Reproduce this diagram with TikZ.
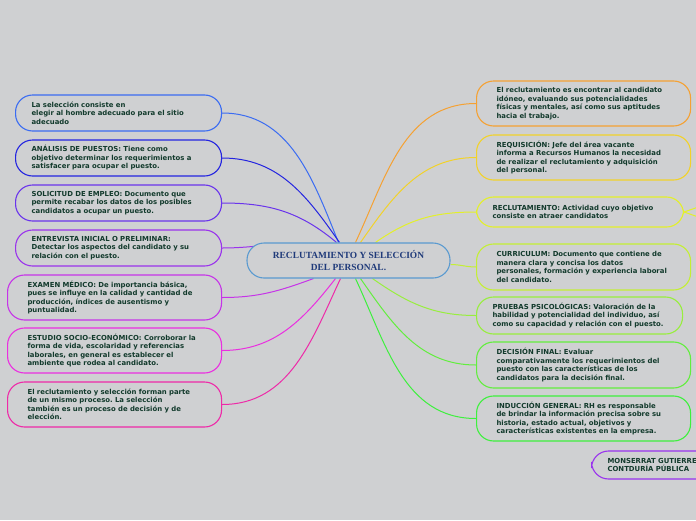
\documentclass[tikz,border=0pt]{standalone}
\usepackage{fontspec}
\newfontfamily\leaffont{DejaVu Sans}
\newfontfamily\rootfont{Liberation Serif}
\usetikzlibrary{backgrounds}
\frenchspacing
\definecolor{paper}{RGB}{207,208,210}
\definecolor{ink}{RGB}{18,58,44}
\definecolor{navy}{RGB}{31,58,122}
\definecolor{rootc}{RGB}{90,154,208}
\definecolor{cla}{RGB}{59,108,242}
\definecolor{clb}{RGB}{36,36,224}
\definecolor{clc}{RGB}{106,52,236}
\definecolor{cld}{RGB}{154,51,236}
\definecolor{cle}{RGB}{198,52,232}
\definecolor{clf}{RGB}{234,47,224}
\definecolor{clg}{RGB}{238,42,168}
\definecolor{cra}{RGB}{245,161,51}
\definecolor{crb}{RGB}{242,210,42}
\definecolor{crc}{RGB}{227,240,42}
\definecolor{crd}{RGB}{196,239,52}
\definecolor{cre}{RGB}{152,238,62}
\definecolor{crf}{RGB}{98,238,62}
\definecolor{crg}{RGB}{62,240,62}
\definecolor{crh}{RGB}{153,51,238}
\begin{document}
\begin{tikzpicture}[
                x=1pt, y=-1pt,
                every node/.style={font=\leaffont\bfseries\fontsize{6.9}{8.5}\selectfont, text=ink},
                leaf/.style={draw, line width=1.1pt, rounded corners=17pt, fill=paper, align=left, anchor=west,
                    text width=174pt, inner xsep=16pt},
                wide/.style={leaf, inner xsep=20pt},
                short/.style={leaf, minimum height=36pt},
                tall/.style={wide, minimum height=45pt},
                root/.style={draw=rootc, line width=1.1pt, rounded corners=17pt, fill=paper, align=center, text=navy,
                    font=\rootfont\bfseries\fontsize{9.4}{11.5}\selectfont, minimum width=203pt, minimum height=35pt},
                link/.style={line width=1pt}
            ]
                \useasboundingbox (0,0) rectangle (696,520);
                \clip (0,0) rectangle (696,520);
                \node [root] (C) at (348.5,260.5) {RECLUTAMIENTO Y SELECCIÓN\\DEL PERSONAL.};
                \node [short, draw=cla] (L1) at (15,113) {La selección consiste en\\elegir al hombre adecuado para el sitio\\adecuado};
                \node [short, draw=clb] (L2) at (15,158) {ANÁLISIS DE PUESTOS: Tiene como\\objetivo determinar los requerimientos a\\satisfacer para ocupar el puesto.};
                \node [short, draw=clc] (L3) at (15,203) {SOLICITUD DE EMPLEO: Documento que\\permite recabar los datos de los posibles\\candidatos a ocupar un puesto.};
                \node [short, draw=cld] (L4) at (15,248) {ENTREVISTA INICIAL O PRELIMINAR:\\Detectar los aspectos del candidato y su\\relación con el puesto.};
                \node [tall, draw=cle] (L5) at (7,297.5) {EXAMEN MÉDICO: De importancia básica,\\pues se influye en la calidad y cantidad de\\producción, índices de ausentismo y\\puntualidad.};
                \node [tall, draw=clf] (L6) at (7,350.5) {ESTUDIO SOCIO-ECONÓMICO: Corroborar la\\forma de vida, escolaridad y referencias\\laborales, en general es establecer el\\ambiente que rodea al candidato.};
                \node [tall, draw=clg] (L7) at (7,404.5) {El reclutamiento y selección forman parte\\de un mismo proceso. La selección\\también es un proceso de decisión y de\\elección.};
                \node [tall, draw=cra] (R1) at (476,103.5) {El reclutamiento es encontrar al candidato\\idóneo, evaluando sus potencialidades\\físicas y mentales, así como sus aptitudes\\hacia el trabajo.};
                \node [tall, draw=crb] (R2) at (476,157.5) {REQUISICIÓN: Jefe del área vacante\\informa a Recursos Humanos la necesidad\\de realizar el reclutamiento y adquisición\\del personal.};
                \node [leaf, draw=crc, text width=175pt, minimum height=30pt] (R3) at (476,212) {RECLUTAMIENTO: Actividad cuyo objetivo\\consiste en atraer candidatos};
                \node [tall, draw=crd, minimum height=46pt] (R4) at (476,267) {CURRICULUM: Documento que contiene de\\manera clara y concisa los datos\\personales, formación y experiencia laboral\\del candidato.};
                \node [short, draw=cre, minimum height=37pt] (R5) at (476,315.5) {PRUEBAS PSICOLÓGICAS: Valoración de la\\habilidad y potencialidad del individuo, así\\como su capacidad y relación con el puesto.};
                \node [tall, draw=crf, minimum height=46pt] (R6) at (476,365) {DECISIÓN FINAL: Evaluar\\comparativamente los requerimientos del\\puesto con las características de los\\candidatos para la decisión final.};
                \node [tall, draw=crg] (R7) at (476,418.5) {INDUCCIÓN GENERAL: RH es responsable\\de brindar la información precisa sobre su\\historia, estado actual, objetivos y\\características existentes en la empresa.};
                \node [leaf, draw=crh, text width=120pt, minimum height=28pt] (R8) at (591,465) {MONSERRAT GUTIERREZ\\CONTDURÍA PÚBLICA};
                \coordinate (F1) at (704,205);
                \coordinate (F2) at (704,219);
                \begin{scope}[on background layer]
                    \fill [paper] (0,0) rectangle (696,520);
                    \clip (0,0) rectangle (696,520);
                    \draw [link, cla] (L1.east) to[out=0, in=112] ([xshift=-10pt]C.north);
                    \draw [link, clb] (L2.east) to[out=0, in=125] ([xshift=-9pt]C.north);
                    \draw [link, clc] (L3.east) to[out=0, in=140] ([xshift=-12pt]C.north);
                    \draw [link, cld] (L4.east) to[out=0, in=170] ([xshift=-25pt, yshift=-4pt]C.north);
                    \draw [link, cle] (L5.east) to[out=0, in=200] ([xshift=-35pt]C.south);
                    \draw [link, clf] (L6.east) to[out=0, in=232] ([xshift=-13pt]C.south);
                    \draw [link, clg] (L7.east) to[out=0, in=245] ([xshift=-8pt]C.south);
                    \draw [link, cra] (R1.west) to[out=180, in=65] ([xshift=7pt]C.north);
                    \draw [link, crb] (R2.west) to[out=180, in=55] ([xshift=12pt]C.north);
                    \draw [link, crc] (R3.west) to[out=180, in=35] ([xshift=27pt]C.north);
                    \draw [link, crd] (R4.west) to[out=180, in=0] ([yshift=-4pt]C.east);
                    \draw [link, cre] (R5.west) to[out=180, in=-35] ([xshift=24pt]C.south);
                    \draw [link, crf] (R6.west) to[out=180, in=-55] ([xshift=12pt]C.south);
                    \draw [link, crg] (R7.west) to[out=180, in=-65] ([xshift=7pt]C.south);
                    \draw [link, crc] (R3.east) -- (F1);
                    \draw [link, crc] (R3.east) -- (F2);
                \end{scope}
            \end{tikzpicture}
\end{document}
